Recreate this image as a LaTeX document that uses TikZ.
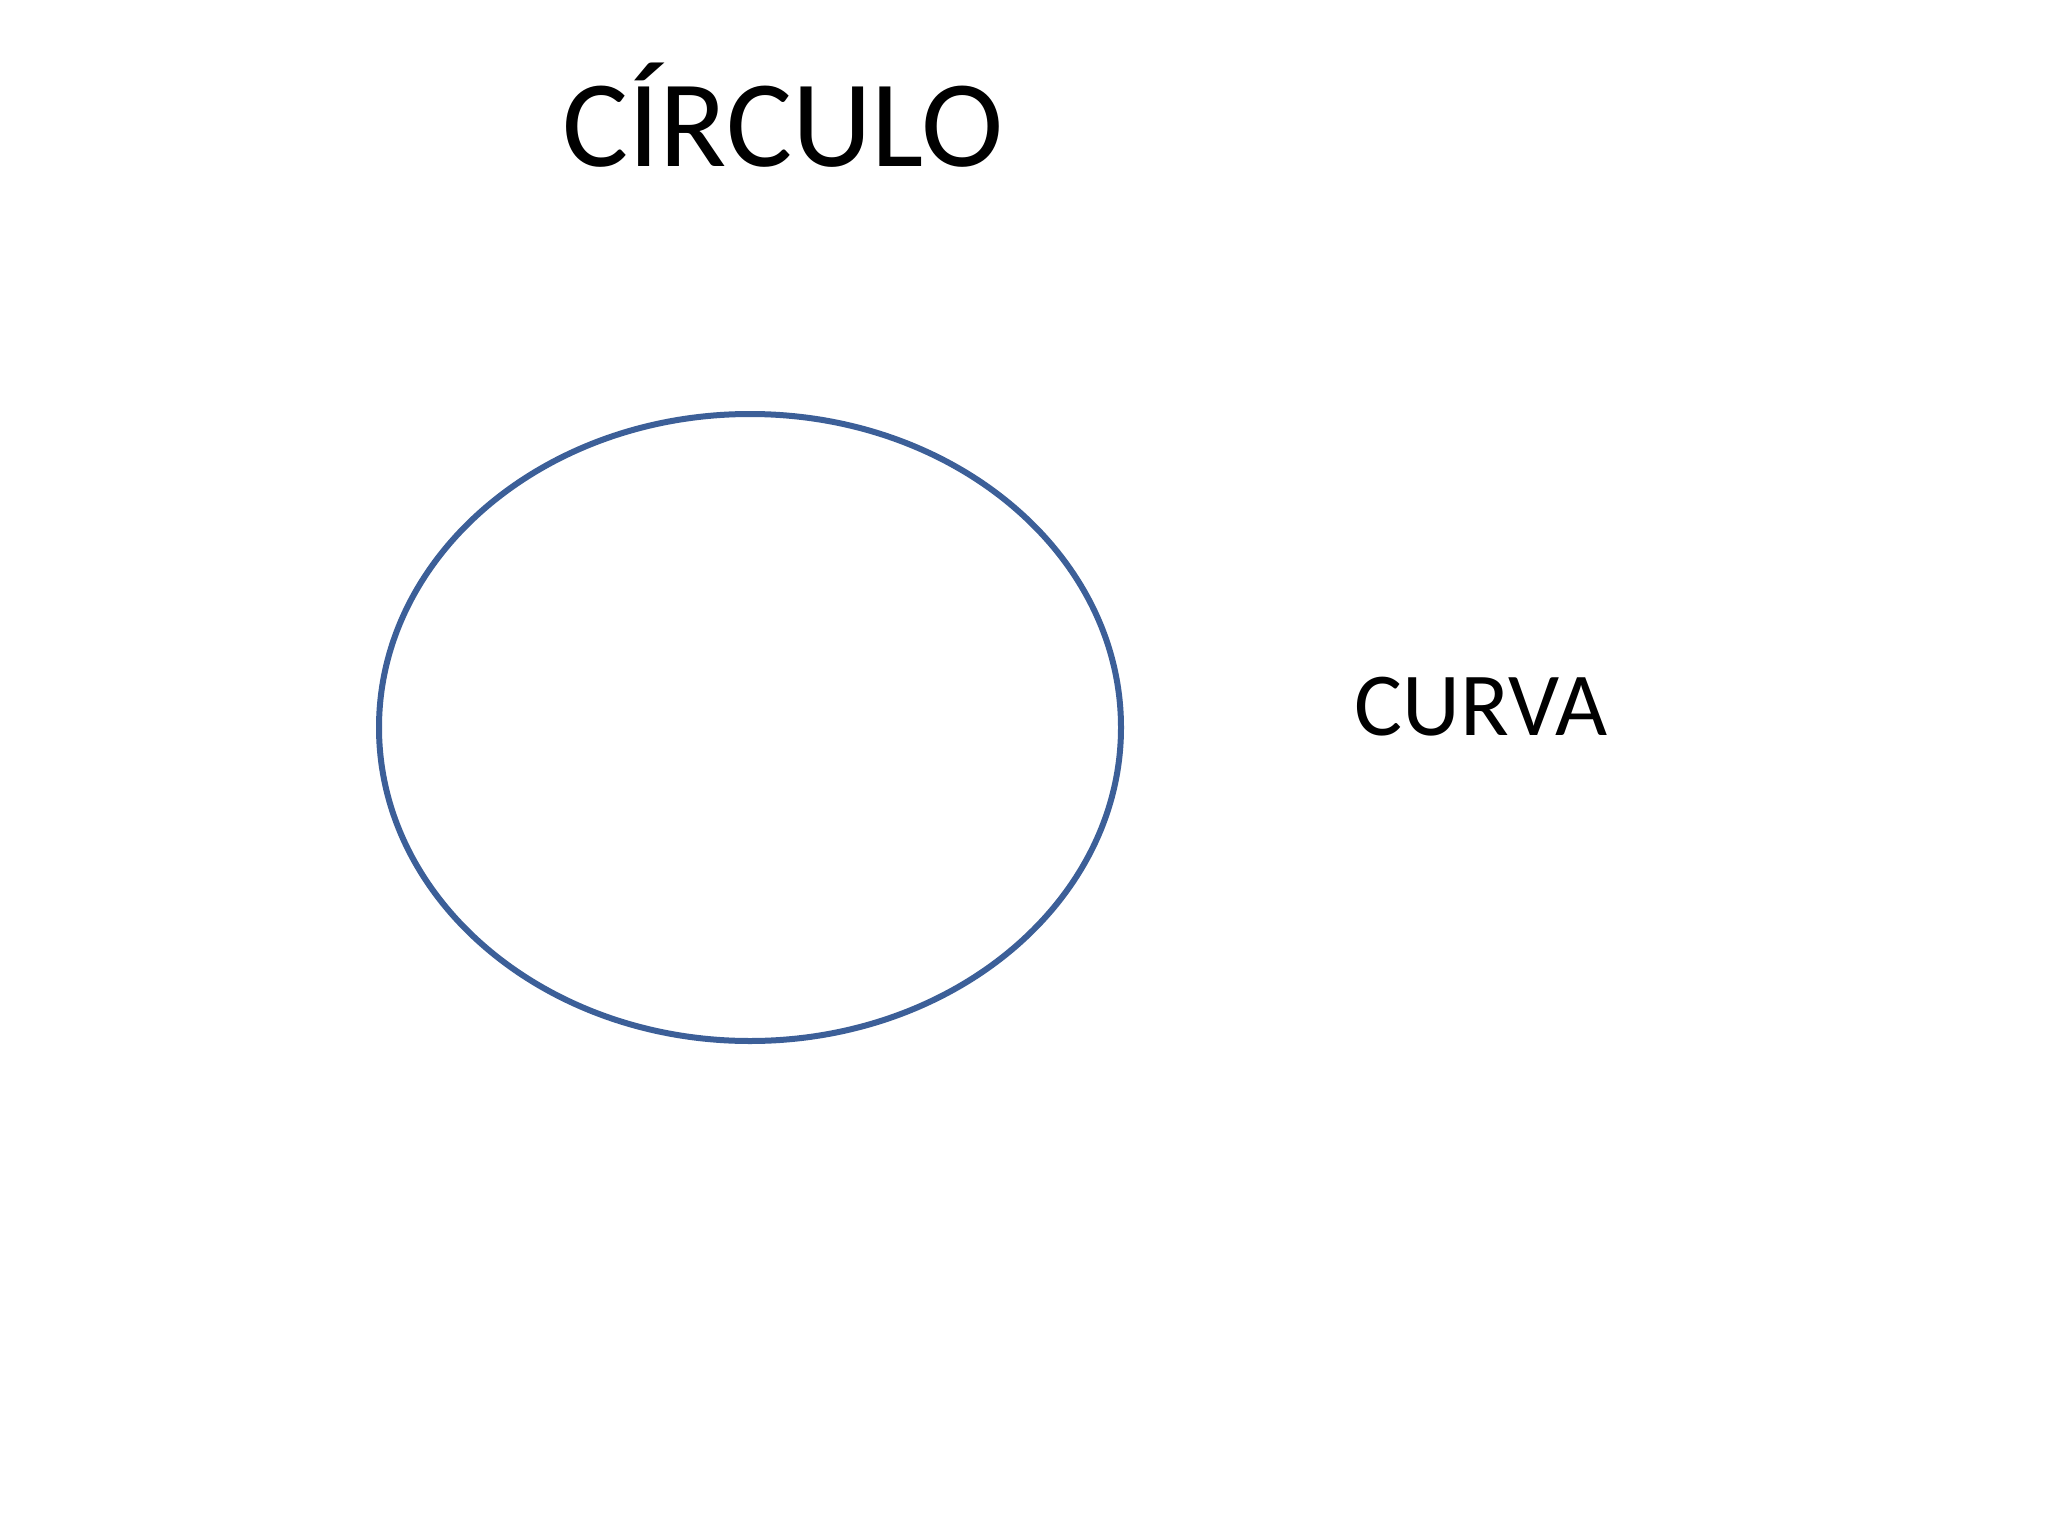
\documentclass[tikz,border=0pt]{standalone}
\usepackage{fontspec}
\setmainfont{Carlito}
\definecolor{outline}{HTML}{3C5F98}
\begin{document}
\begin{tikzpicture}[x=1pt,y=-1pt,
  title/.style={font=\fontsize{124}{130}\selectfont, anchor=base, inner sep=0pt},
  label/.style={font=\fontsize{90}{96}\selectfont, anchor=base, inner sep=0pt},
  shapeline/.style={draw=outline, line width=6pt}]
\useasboundingbox[fill=white] (0,0) rectangle (2048,1536);
\node[title] (t) at (783,166) {CÍRCULO};
\draw[shapeline] (750,727.5) ellipse [x radius=371, y radius=313.5];
\node[label] (c) at (1481,735) {CURVA};
\end{tikzpicture}
\end{document}
